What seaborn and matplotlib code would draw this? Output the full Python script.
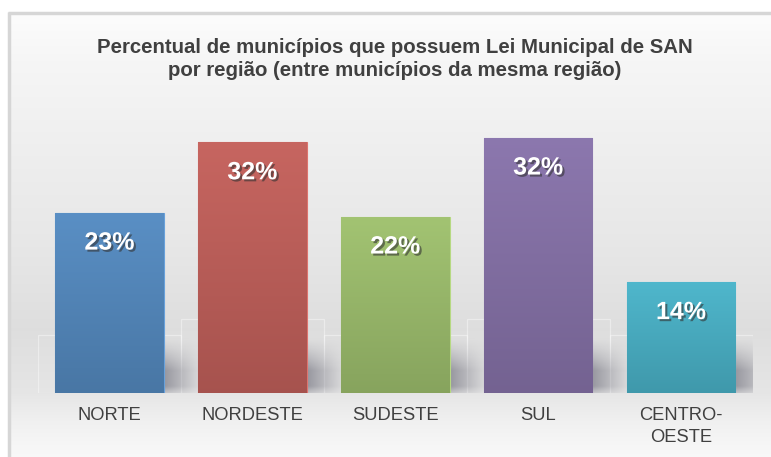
import numpy as np
import pandas as pd
import matplotlib
matplotlib.use("Agg")
import matplotlib.pyplot as plt
import matplotlib.patheffects as pe
from matplotlib.colors import to_rgb
import seaborn as sns

# ---- data ----
regioes = ["NORTE", "NORDESTE", "SUDESTE", "SUL", "CENTRO-\nOESTE"]
percentuais = [22.8, 31.7, 22.3, 32.3, 14.0]
rotulos = ["23%", "32%", "22%", "32%", "14%"]
cores = ["#4f81b3", "#b55a55", "#93b266", "#7e6b9e", "#45a6ba"]
titulo = ("Percentual de municípios que possuem Lei Municipal de SAN\n"
          "por região (entre municípios da mesma região)")

sns.set_theme(style="white")
plt.rcParams["font.family"] = ["Liberation Sans", "DejaVu Sans"]

W, H = 771, 457
fig = plt.figure(figsize=(W / 100, H / 100), dpi=100, facecolor="white")

# ---- background panel with gradient and frame ----
bg = fig.add_axes([0, 0, 1, 1], zorder=0)
bg.set_xlim(0, W)
bg.set_ylim(H, 0)
bg.axis("off")
ys = np.array([12, 60, 150, 250, 330, 393, 420, 457])
vs = np.array([0.99, 0.965, 0.935, 0.905, 0.87, 0.9, 0.94, 0.975])
yy = np.linspace(12, H, 300)
g = np.interp(yy, ys, vs)
grad = np.dstack([g[:, None]] * 3)
bg.imshow(grad, extent=[8, W, H, 12], aspect="auto", interpolation="bilinear")
bg.plot([8.5, 8.5], [12, H], color="#d6d6d6", lw=2.5, solid_capstyle="butt")
bg.plot([8, W], [12.5, 12.5], color="#d6d6d6", lw=2.5, solid_capstyle="butt")

# ---- main axes ----
base_px, top_px = 392.7, 130
ax = fig.add_axes([38 / W, 1 - base_px / H, (752.5 - 38) / W, (base_px - top_px) / H], zorder=1)
ax.patch.set_alpha(0)

df = pd.DataFrame({"regiao": regioes, "pct": percentuais})
sns.barplot(data=df, x="regiao", y="pct", hue="regiao", palette=cores,
            width=0.76, legend=False, ax=ax, saturation=1, zorder=3)
ax.set_xlim(-0.5, 4.5)
ax.set_ylim(0, (base_px - top_px) / 7.9)

bars = list(ax.patches[:len(cores)])

# faint glass boxes behind the bars
for k, p in enumerate(bars):
    x0, w = p.get_x(), p.get_width()
    hh = 7.3 if k % 2 == 0 else 9.3
    ax.add_patch(plt.Rectangle((x0 - 0.12, 0), w + 0.24, hh, fill=False,
                               edgecolor="white", lw=0.9, alpha=0.4, zorder=1.5))

# gradient fill and soft shadows for bars
for p, c in zip(bars, cores):
    x0, w, h = p.get_x(), p.get_width(), p.get_height()
    rgb = np.array(to_rgb(c))
    top = np.clip(rgb * 1.07 + 0.02, 0, 1)
    bot = np.clip(rgb * 0.92, 0, 1)
    t = np.linspace(0, 1, 100)[:, None]
    col = top[None, :] * (1 - t) + bot[None, :] * t
    im = ax.imshow(col[:, None, :], extent=[x0, x0 + w, 0, h], aspect="auto",
                   zorder=3.5, interpolation="bilinear")
    im.set_clip_path(p)
    p.set_edgecolor(tuple(np.clip(rgb * 1.15 + 0.05, 0, 1)))
    p.set_linewidth(0.8)

    # shadow to the right of the bar
    nx, ny = 80, 80
    xn = np.linspace(0, 1, nx)[None, :]
    yn = np.linspace(1, 0, ny)[:, None]  # 1 at top, 0 at base
    yprof = np.clip((1 - yn) / 0.6, 0, 1) ** 1.3
    yprof = yprof * np.where(yn < 0.12, 0.45 + 0.55 * yn / 0.12, 1.0)
    xprof = np.clip(1 - xn, 0, 1) ** 1.1
    alpha = 0.8 * yprof * xprof
    rgba = np.zeros((ny, nx, 4))
    rgba[..., 0] = 0.52
    rgba[..., 1] = 0.52
    rgba[..., 2] = 0.56
    rgba[..., 3] = alpha
    ax.imshow(rgba, extent=[x0 + w, x0 + w + 0.3, 0, 7.0], aspect="auto",
              zorder=2, interpolation="bilinear")

ax.set_xlim(-0.5, 4.5)
ax.set_ylim(0, (base_px - top_px) / 7.9)

# value labels
for i, (v, lab) in enumerate(zip(percentuais, rotulos)):
    ax.text(i, v - 30 / 7.9, lab, ha="center", va="center", color="white",
            fontsize=18, fontweight="bold", zorder=5,
            path_effects=[pe.withSimplePatchShadow(offset=(1.5, -1.5),
                                                   shadow_rgbFace="#333333", alpha=0.6)])

ax.set_xticks(range(len(regioes)))
ax.set_xticklabels(regioes, fontsize=13.2, color="#404040", linespacing=1.4)
ax.tick_params(axis="x", length=0, pad=10)
ax.set_yticks([])
ax.set_xlabel("")
ax.set_ylabel("")
sns.despine(ax=ax, left=True, bottom=True)

fig.text(395 / W, 1 - 59 / H, titulo, ha="center", va="center", fontsize=14.7,
         fontweight="bold", color="#404040", linespacing=1.3)

fig.savefig("out.png", dpi=100, facecolor="white")
